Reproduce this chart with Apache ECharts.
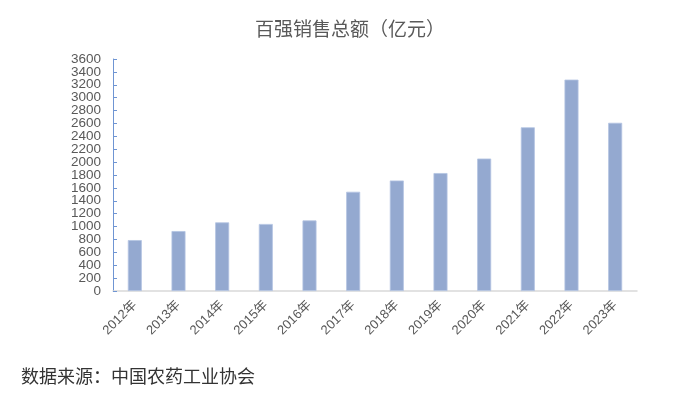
<!DOCTYPE html>
<html>
<head>
<meta charset="utf-8">
<script src="https://cdn.jsdelivr.net/npm/echarts@6/dist/echarts.min.js"></script>
<style>
html,body{margin:0;padding:0;background:#fff;}
#chart{width:700px;height:393px;}
</style>
</head>
<body>
<div id="chart"></div>
<script>
var categories = ['2012年','2013年','2014年','2015年','2016年','2017年','2018年','2019年','2020年','2021年','2022年','2023年'];
var salesValues = [790, 930, 1065, 1040, 1095, 1540, 1715, 1830, 2055, 2540, 3280, 2610];
var yTickLabels = ['0','200','400','600','800','1000','1200','1400','1600','1800','2000','2200','2400','2600','2800','3000','3200','3400','3600'];
var titleText = '百强销售总额（亿元）';
var sourceText = '数据来源：中国农药工业协会';

var chart = echarts.init(document.getElementById('chart'), null, {renderer: 'canvas'});
chart.setOption({
  animation: false,
  backgroundColor: '#ffffff',
  title: {
    text: titleText,
    left: 'center',
    top: 14,
    textStyle: {fontFamily: 'Noto Sans CJK SC', fontSize: 19, fontWeight: 'normal', color: '#595959'}
  },
  graphic: [{
    type: 'text',
    left: 21,
    top: 367,
    style: {text: sourceText, fontFamily: 'Noto Sans CJK SC', fontSize: 18, fill: '#333333'}
  }],
  grid: {left: 113, right: 63, top: 59, bottom: 102, containLabel: false},
  xAxis: {
    type: 'category',
    data: categories,
    axisLine: {show: true, lineStyle: {color: '#d9d9d9', width: 1.5}},
    axisTick: {show: false},
    axisLabel: {rotate: 45, margin: 12, fontFamily: 'Liberation Sans, Noto Sans CJK SC', fontSize: 13, color: '#595959'}
  },
  yAxis: [{
    type: 'value',
    min: 0,
    max: 3600,
    interval: 200,
    axisLine: {show: true, lineStyle: {color: '#6f95d3', width: 1}},
    axisTick: {show: true, inside: true, length: 4, lineStyle: {color: '#6f95d3'}},
    splitLine: {show: false},
    axisLabel: {show: false}
  }, {
    type: 'category',
    position: 'left',
    data: yTickLabels,
    boundaryGap: false,
    axisLine: {show: false},
    axisTick: {show: false},
    splitLine: {show: false},
    axisLabel: {
      interval: 0, margin: 12, fontFamily: 'Liberation Sans', fontSize: 13.5, color: '#595959'
    }
  }],
  series: [{
    type: 'bar',
    yAxisIndex: 0,
    data: salesValues,
    barWidth: 14,
    itemStyle: {color: '#94a9d0', borderColor: '#b4c4e2', borderWidth: 0.8}
  }]
});
</script>
</body>
</html>
